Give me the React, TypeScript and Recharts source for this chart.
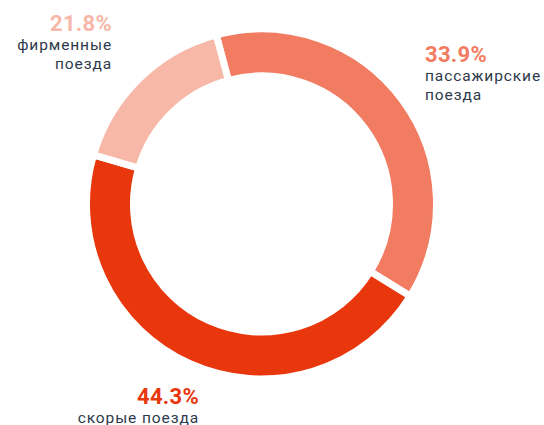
import { Cell, Pie, PieChart } from "recharts";

// slice sizes as drawn in the picture (clockwise from the top gap)
const names = ["пассажирские поезда", "скорые поезда", "фирменные поезда"];
const shares = [38.0, 45.7, 16.3];
const labels = ["33.9%", "44.3%", "21.8%"];
const lines = [["пассажирские", "поезда"], ["скорые поезда"], ["фирменные", "поезда"]];

const COLORS = ["#f27c62", "#e8370d", "#f7b8a8"];
const TEXT = "#2e3a4b";
const FONT = "Roboto, 'Noto Sans', sans-serif";

// label block anchors (x, baseline of the percentage, text-anchor)
const LABEL_POS: { x: number; y: number; anchor: "start" | "end" }[] = [
  { x: 425, y: 62, anchor: "start" },
  { x: 199, y: 404, anchor: "end" },
  { x: 112, y: 31, anchor: "end" },
];

const data = names.map((name, i) => ({ name, value: shares[i] }));

function renderLabel(props: any) {
  const i = props.index;
  const pos = LABEL_POS[i];
  return (
    <g key={i}>
      <text
        x={pos.x}
        y={pos.y}
        textAnchor={pos.anchor}
        fill={COLORS[i]}
        fontFamily={FONT}
        fontWeight={700}
        fontSize={22}
        letterSpacing={0.3}
      >
        {labels[i]}
      </text>
      {lines[i].map((line, li) => (
        <text
          key={li}
          x={pos.x}
          y={pos.y + 19 + li * 19}
          textAnchor={pos.anchor}
          fill={TEXT}
          fontFamily={FONT}
          fontSize={15.5}
          letterSpacing={0.9}
        >
          {line}
        </text>
      ))}
    </g>
  );
}

export default function App() {
  return (
    <div style={{ position: "absolute", left: 0, top: 0, background: "#fff" }}>
      <PieChart width={544} height={425} margin={{ top: 0, right: 0, bottom: 0, left: 0 }}>
        <Pie
          data={data}
          dataKey="value"
          cx={261.5}
          cy={204}
          innerRadius={128}
          outerRadius={175}
          startAngle={105}
          endAngle={-255}
          stroke="#fff"
          strokeWidth={7}
          label={renderLabel}
          labelLine={false}
          isAnimationActive={false}
        >
          {data.map((d, i) => (
            <Cell key={d.name} fill={COLORS[i]} />
          ))}
        </Pie>
      </PieChart>
    </div>
  );
}
